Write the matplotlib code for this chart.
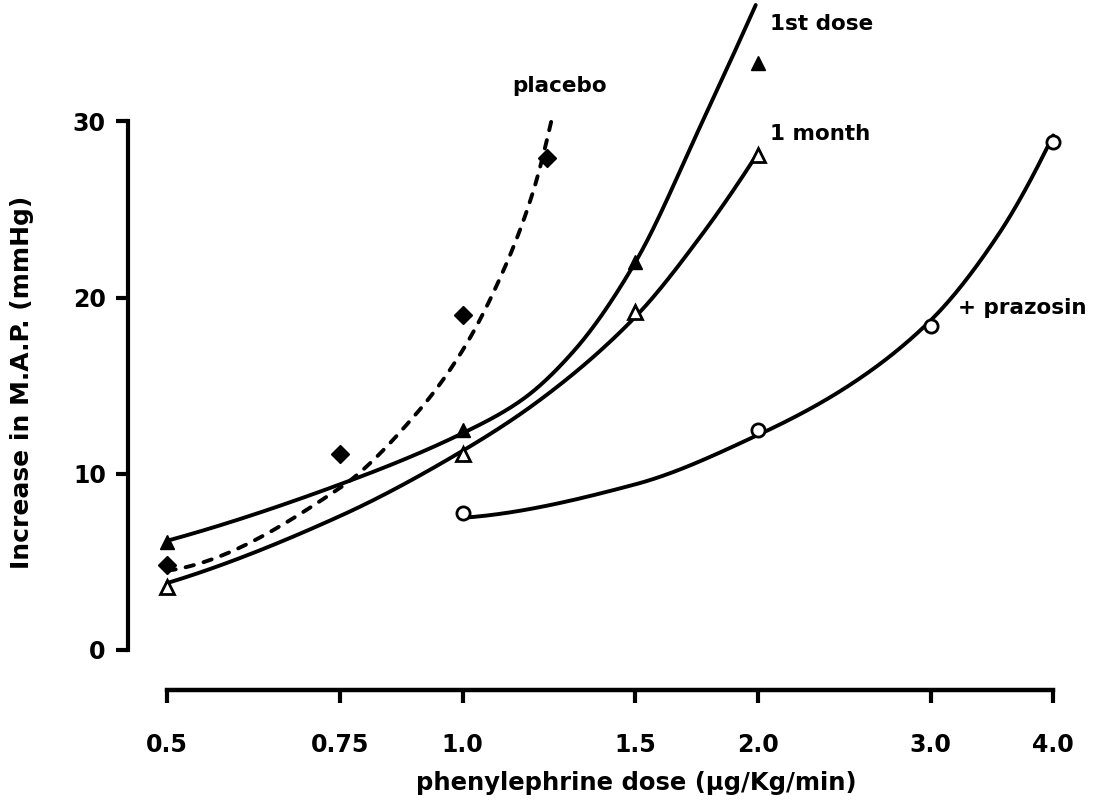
import numpy as np
import matplotlib
matplotlib.use("Agg")
import matplotlib.pyplot as plt
from matplotlib.ticker import FixedLocator, FixedFormatter, NullLocator

# ---- data ----
placebo_x = [0.5, 0.75, 1.0, 1.22]
placebo_y = [4.8, 11.1, 19.0, 27.9]
first_x = [0.5, 1.0, 1.5, 2.0]
first_y = [6.1, 12.5, 22.0, 33.3]
month_x = [0.5, 1.0, 1.5, 2.0]
month_y = [3.6, 11.1, 19.2, 28.1]
praz_x = [1.0, 2.0, 3.0, 4.0]
praz_y = [7.8, 12.5, 18.4, 28.8]

# hand-drawn fitted curves (knots)
placebo_cx = [0.5, 0.75, 0.9, 1.0, 1.1, 1.18, 1.235]
placebo_cy = [4.5, 9.2, 13.5, 17.0, 21.5, 26.0, 30.3]
first_cx = [0.5, 0.75, 1.0, 1.15, 1.3, 1.5, 1.75, 1.99]
first_cy = [6.2, 9.4, 12.3, 14.2, 17.0, 22.0, 29.8, 36.6]
month_cx = [0.5, 0.75, 1.0, 1.2, 1.5, 1.75, 2.0]
month_cy = [3.8, 7.6, 11.3, 14.2, 18.9, 23.5, 28.2]
praz_cx = [1.0, 1.5, 2.0, 2.46, 3.0, 3.52, 4.0]
praz_cy = [7.5, 9.4, 12.2, 14.9, 18.7, 23.6, 29.2]

xticks = [0.5, 0.75, 1.0, 1.5, 2.0, 3.0, 4.0]
xticklabels = ["0.5", "0.75", "1.0", "1.5", "2.0", "3.0", "4.0"]
yticks = [0, 10, 20, 30]
yticklabels = ["0", "10", "20", "30"]


def smooth(xs, ys, n=60):
    """Monotone cubic Hermite (PCHIP) through knots, in log-x space."""
    x = np.log(np.asarray(xs, float))
    y = np.asarray(ys, float)
    h = np.diff(x)
    d = np.diff(y) / h
    m = np.zeros_like(y)
    for i in range(1, len(y) - 1):
        if d[i - 1] * d[i] <= 0:
            m[i] = 0
        else:
            w1 = 2 * h[i] + h[i - 1]
            w2 = h[i] + 2 * h[i - 1]
            m[i] = (w1 + w2) / (w1 / d[i - 1] + w2 / d[i])
    m[0] = ((2 * h[0] + h[1]) * d[0] - h[0] * d[1]) / (h[0] + h[1])
    m[-1] = ((2 * h[-1] + h[-2]) * d[-1] - h[-1] * d[-2]) / (h[-1] + h[-2])
    X, Y = [], []
    for i in range(len(h)):
        t = np.linspace(0, 1, n)
        h00 = 2 * t ** 3 - 3 * t ** 2 + 1
        h10 = t ** 3 - 2 * t ** 2 + t
        h01 = -2 * t ** 3 + 3 * t ** 2
        h11 = t ** 3 - t ** 2
        yy = h00 * y[i] + h10 * h[i] * m[i] + h01 * y[i + 1] + h11 * h[i] * m[i + 1]
        xx = x[i] + t * h[i]
        if i > 0:
            xx, yy = xx[1:], yy[1:]
        X.append(xx)
        Y.append(yy)
    return np.exp(np.concatenate(X)), np.concatenate(Y)


plt.rcParams['font.family'] = ['DejaVu Sans']
plt.rcParams['font.weight'] = 'bold'

fig = plt.figure(figsize=(11.06, 8.08), dpi=100)
W, H = 1106, 808
left, right, top, bottom = 128, 1080, 5, 690
ax = fig.add_axes([left / W, 1 - bottom / H, (right - left) / W, (bottom - top) / H])
ax.set_xscale('log')
ax.set_xlim(0.456, 4.26)
ax.set_ylim(-2.27, 36.6)
ax.set_facecolor('none')

lw = 2.8
k = dict(color='black', lw=lw, clip_on=False, solid_capstyle='round')
x, y = smooth(placebo_cx, placebo_cy)
ax.plot(x, y, color='black', lw=lw, ls=(0, (2.2, 2.6)), dash_capstyle='round', clip_on=False)
for cx, cy in [(first_cx, first_cy), (month_cx, month_cy), (praz_cx, praz_cy)]:
    x, y = smooth(cx, cy)
    ax.plot(x, y, **k)

ax.plot(placebo_x, placebo_y, ls='none', marker='D', ms=9.5, color='black', clip_on=False)
ax.plot(first_x, first_y, ls='none', marker='^', ms=10.5, color='black', clip_on=False)
ax.plot(month_x, month_y, ls='none', marker='^', ms=9.5, mfc='white', mec='black', mew=2, clip_on=False)
ax.plot(praz_x, praz_y, ls='none', marker='o', ms=9.5, mfc='white', mec='black', mew=2, clip_on=False)

afs = 15.5
ax.text(2.06, 35.5, "1st dose", fontsize=afs, fontweight='bold', va='center', ha='left')
ax.text(2.06, 29.3, "1 month", fontsize=afs, fontweight='bold', va='center', ha='left')
ax.text(1.125, 32.0, "placebo", fontsize=afs, fontweight='bold', va='center', ha='left')
ax.text(3.2, 19.4, "+ prazosin", fontsize=afs, fontweight='bold', va='center', ha='left')

for s in ['top', 'right']:
    ax.spines[s].set_visible(False)
ax.spines['left'].set_bounds(0, 30)
ax.spines['bottom'].set_bounds(0.5, 4.0)
ax.spines['left'].set_linewidth(3)
ax.spines['bottom'].set_linewidth(3.2)

tfs = 17
ax.xaxis.set_major_locator(FixedLocator(xticks))
ax.xaxis.set_major_formatter(FixedFormatter(xticklabels))
ax.xaxis.set_minor_locator(NullLocator())
ax.set_yticks(yticks)
ax.set_yticklabels(yticklabels)
ax.tick_params(axis='both', width=3, length=9, labelsize=tfs, direction='out')
ax.tick_params(axis='x', pad=22)
ax.tick_params(axis='y', pad=7)
for lab in ax.get_xticklabels() + ax.get_yticklabels():
    lab.set_fontweight('bold')

lfs = 17.5
fig.text(636 / W, 1 - 783 / H, "phenylephrine dose (\u00b5g/Kg/min)", fontsize=lfs,
         fontweight='bold', ha='center', va='center')
fig.text(22 / W, 1 - 382 / H, "Increase in M.A.P. (mmHg)", fontsize=18,
         fontweight='bold', ha='center', va='center', rotation=90)

fig.savefig("out.png", dpi=100)
